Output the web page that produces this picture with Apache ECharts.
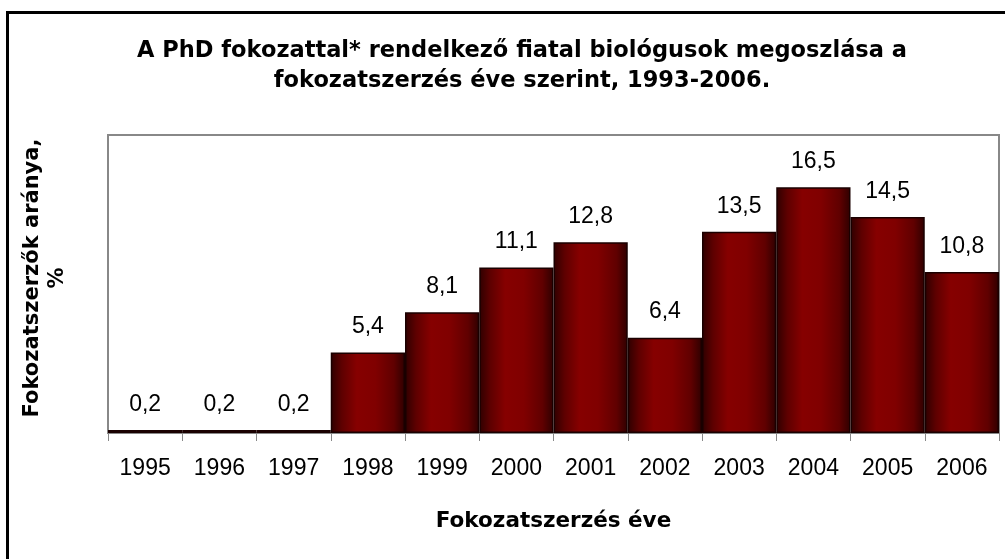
<!DOCTYPE html>
<html><head><meta charset="utf-8">
<script src="https://cdn.jsdelivr.net/npm/echarts@6/dist/echarts.min.js"></script>
<style>html,body{margin:0;padding:0;background:#fff}#c{width:1005px;height:559px}</style>
</head><body><div id="c"></div>
<script>
const years = ['1995','1996','1997','1998','1999','2000','2001','2002','2003','2004','2005','2006'];
const shares = [0.2,0.2,0.2,5.4,8.1,11.1,12.8,6.4,13.5,16.5,14.5,10.8];
const titleLines = ['A PhD fokozattal* rendelkező fiatal biológusok megoszlása a','fokozatszerzés éve szerint, 1993-2006.'];
const xName = 'Fokozatszerzés éve';
const yNameLines = ['Fokozatszerzők aránya,','%'];

const chart = echarts.init(document.getElementById('c'), null, {renderer:'canvas'});
const font = '"Liberation Sans", Arial, sans-serif';
const bold = '"DejaVu Sans", "Liberation Sans", sans-serif';
chart.setOption({
  animation:false,
  backgroundColor:'#fff',
  title:{text:titleLines.join('\n'), left:517, top:31, textAlign:'center',
    textStyle:{fontFamily:bold,fontSize:22.5,fontWeight:'bold',color:'#000',lineHeight:30}},
  graphic:[
    {type:'rect',shape:{x:7.5,y:12.5,width:1200,height:800},style:{fill:null,stroke:'#000',lineWidth:3},silent:true,z:100},
    {type:'text',x:45,y:278,rotation:Math.PI/2,silent:true,
      style:{text:yNameLines.join('\n'),fontFamily:bold,fontSize:21,fontWeight:'bold',fill:'#000',
        align:'center',verticalAlign:'middle',lineHeight:25}}
  ],
  grid:{left:108,top:135,width:891,height:298,show:true,borderColor:'#888',borderWidth:2,backgroundColor:'transparent'},
  xAxis:{type:'category',data:years,boundaryGap:true,
    axisLine:{lineStyle:{color:'#888',width:2}},
    axisTick:{show:true,length:8,lineStyle:{color:'#888',width:1}},
    axisLabel:{fontFamily:font,fontSize:23,color:'#000',margin:24},
    name:xName,nameLocation:'middle',nameGap:77,
    nameTextStyle:{fontFamily:bold,fontSize:21.5,fontWeight:'bold',color:'#000'}},
  yAxis:{type:'value',min:0,max:20,
    axisLine:{show:false},axisTick:{show:false},axisLabel:{show:false},splitLine:{show:false}},
  series:[{type:'bar',data:shares,barCategoryGap:'0%',
    itemStyle:{borderColor:'#1a0000',borderWidth:1.5,
      color:new echarts.graphic.LinearGradient(0,0,1,0,[
        {offset:0,color:'#2e0000'},{offset:0.15,color:'#5e0000'},{offset:0.35,color:'#860000'},
        {offset:0.6,color:'#800000'},{offset:0.85,color:'#600000'},{offset:1,color:'#2e0000'}])},
    label:{show:true,position:'top',distance:14,fontFamily:font,fontSize:23,color:'#000',
      formatter:p=>String(p.value).replace('.',',')}}]
});
</script></body></html>
